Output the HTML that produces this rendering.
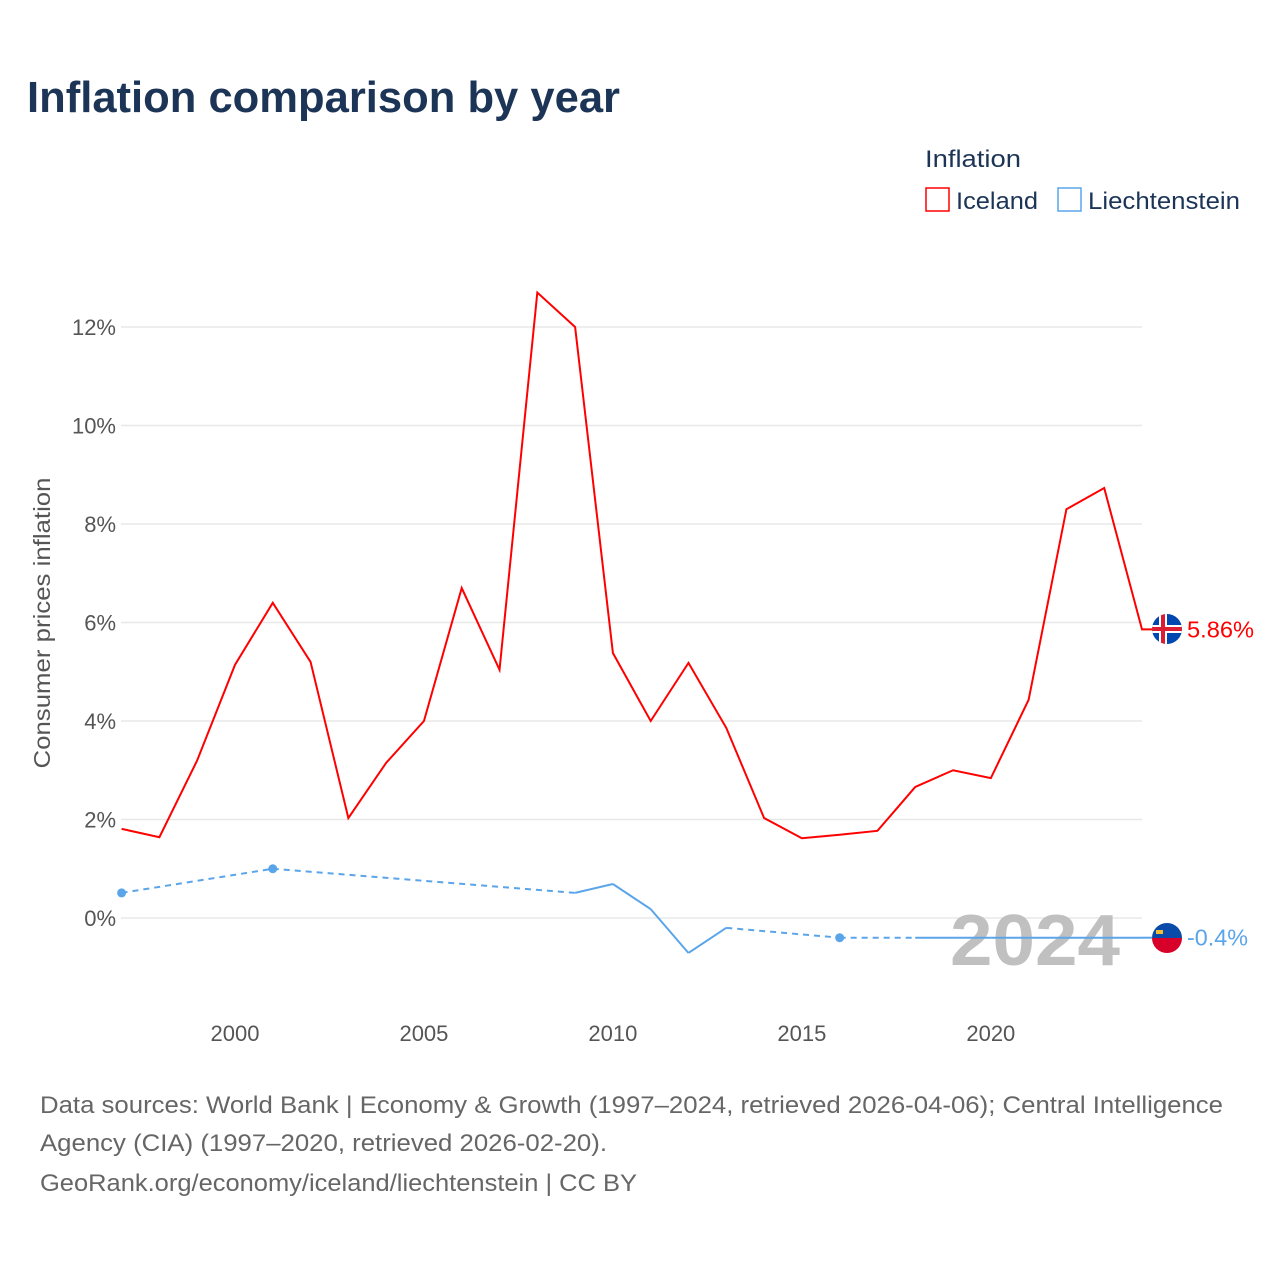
<!DOCTYPE html>
<html><head><meta charset="utf-8">
<style>
body{margin:0;background:#fff;width:1280px;height:1280px;overflow:hidden;font-family:"Liberation Sans",sans-serif;}
svg text{font-family:"Liberation Sans",sans-serif;}
</style></head>
<body>
<svg id="chart" width="1280" height="1280">
  <text x="27" y="112" font-size="44" font-weight="bold" fill="#1c3557" textLength="593" lengthAdjust="spacingAndGlyphs">Inflation comparison by year</text>
  <text x="925" y="167" font-size="24" fill="#1c3557" textLength="96" lengthAdjust="spacingAndGlyphs">Inflation</text>
  <g>
    <rect x="926" y="188" width="23" height="23" fill="none" stroke="#ff0000" stroke-width="1.5"/>
    <text x="956" y="209" font-size="24" fill="#1c3557" textLength="82" lengthAdjust="spacingAndGlyphs">Iceland</text>
  </g>
  <g>
    <rect x="1058" y="188" width="23" height="23" fill="none" stroke="#5aa5ea" stroke-width="1.5"/>
    <text x="1088" y="209" font-size="24" fill="#1c3557" textLength="152" lengthAdjust="spacingAndGlyphs">Liechtenstein</text>
  </g>
  <g id="grid"></g>
  <g id="yticks"></g>
  <g id="xticks"></g>
  <text transform="translate(50,623) rotate(-90)" text-anchor="middle" font-size="23" fill="#555" textLength="291" lengthAdjust="spacingAndGlyphs">Consumer prices inflation</text>
  <text x="950" y="965" font-size="72" font-weight="bold" fill="#c0c0c0" textLength="170" lengthAdjust="spacingAndGlyphs">2024</text>
  <g id="series"></g>
  <g>
    <clipPath id="cf1"><circle cx="1167" cy="629" r="15"/></clipPath>
    <g clip-path="url(#cf1)">
      <rect x="1150" y="612" width="34" height="34" fill="#0048b0"/>
      <rect x="1150" y="625" width="34" height="8" fill="#fff"/>
      <rect x="1159" y="612" width="8" height="34" fill="#fff"/>
      <rect x="1150" y="627" width="34" height="4" fill="#dc1e35"/>
      <rect x="1161" y="612" width="4" height="34" fill="#dc1e35"/>
    </g>
  </g>
  <g>
    <clipPath id="cf2"><circle cx="1167" cy="938" r="15"/></clipPath>
    <g clip-path="url(#cf2)">
      <rect x="1150" y="921" width="34" height="17" fill="#0a4aa8"/>
      <rect x="1150" y="938" width="34" height="17" fill="#d8002a"/>
      <rect x="1156" y="930" width="7" height="4" fill="#f0c030"/>
    </g>
  </g>
  <text id="lblI" x="1187" y="636" font-size="23" fill="#ff0000" textLength="67" lengthAdjust="spacingAndGlyphs">5.86%</text>
  <text id="lblL" x="1187" y="945" font-size="23" fill="#5aa5ea" textLength="61" lengthAdjust="spacingAndGlyphs">-0.4%</text>
  <text x="40" y="1113" font-size="24" fill="#666" textLength="1183" lengthAdjust="spacingAndGlyphs">Data sources: World Bank | Economy &amp; Growth (1997–2024, retrieved 2026-04-06); Central Intelligence</text>
  <text x="40" y="1151" font-size="24" fill="#666" textLength="567" lengthAdjust="spacingAndGlyphs">Agency (CIA) (1997–2020, retrieved 2026-02-20).</text>
  <text x="40" y="1191" font-size="24" fill="#666" textLength="597" lengthAdjust="spacingAndGlyphs">GeoRank.org/economy/iceland/liechtenstein | CC BY</text>
</svg>
<script>
const years=[1997,1998,1999,2000,2001,2002,2003,2004,2005,2006,2007,2008,2009,2010,2011,2012,2013,2014,2015,2016,2017,2018,2019,2020,2021,2022,2023,2024];
const iceland=[1.81,1.64,3.2,5.14,6.4,5.2,2.03,3.15,4.0,6.7,5.04,12.7,12.0,5.38,4.0,5.18,3.86,2.03,1.62,1.69,1.77,2.66,3.0,2.84,4.43,8.3,8.73,5.86];
const liechtenstein=[0.51,null,null,null,1.0,null,null,null,null,null,null,null,0.51,0.69,0.18,-0.71,-0.2,null,null,-0.4,null,-0.4,-0.4,-0.4,-0.4,-0.4,-0.4,-0.4];
const yTicks=[0,2,4,6,8,10,12];
const xTicks=[2000,2005,2010,2015,2020];
const NS="http://www.w3.org/2000/svg";
const X=y=>121.6+(y-1997)*(1142-121.6)/27;
const Y=v=>918-v*49.25;
function mk(tag,attrs,parent){const e=document.createElementNS(NS,tag);for(const k in attrs)e.setAttribute(k,attrs[k]);parent.appendChild(e);return e;}
const grid=document.getElementById('grid'),yt=document.getElementById('yticks'),xt=document.getElementById('xticks'),ser=document.getElementById('series');
yTicks.forEach(t=>{
  const l=mk('line',{x1:121,x2:1142,y1:Y(t),y2:Y(t),stroke:'#e8e8e8','stroke-width':1.5},grid);
  
  
  const tx=mk('text',{x:116,y:Y(t)+8,'text-anchor':'end','font-size':22,fill:'#555'},yt);
  tx.textContent=t+'%';
  
  
});
xTicks.forEach(t=>{
  const tx=mk('text',{x:X(t),y:1041,'text-anchor':'middle','font-size':22,fill:'#555'},xt);
  tx.textContent=t;
  
  
});
let d='';iceland.forEach((v,i)=>{d+=(i?'L':'M')+X(years[i])+','+Y(v);});
d+='L1152,'+Y(iceland[iceland.length-1]);
const pi=mk('path',{d:d,fill:'none',stroke:'#ff0000','stroke-width':2},ser);


const pts=[];liechtenstein.forEach((v,i)=>{if(v!==null)pts.push([i,v]);});
for(let k=1;k<pts.length;k++){
  const [i0,v0]=pts[k-1],[i1,v1]=pts[k];
  const seg=mk('line',{x1:X(years[i0]),y1:Y(v0),x2:X(years[i1]),y2:Y(v1),stroke:'#5aa5ea','stroke-width':2},ser);
  if(i1-i0>1)seg.setAttribute('stroke-dasharray','6,5');
  
  
}
const lastL=liechtenstein[liechtenstein.length-1];
const ext=mk('line',{x1:X(2024),y1:Y(lastL),x2:1152,y2:Y(lastL),stroke:'#5aa5ea','stroke-width':2},ser);


pts.forEach(([i,v])=>{
  const prev=i>0?liechtenstein[i-1]:null,next=i<liechtenstein.length-1?liechtenstein[i+1]:null;
  if(prev===null&&next===null){
    const c=mk('circle',{cx:X(years[i]),cy:Y(v),r:4.5,fill:'#5aa5ea'},ser);
    
    
  }
});
document.getElementById('lblI').setAttribute('y',Y(iceland[iceland.length-1])+8);
document.getElementById('lblL').setAttribute('y',Y(lastL)+8);
</script>
</body></html>
